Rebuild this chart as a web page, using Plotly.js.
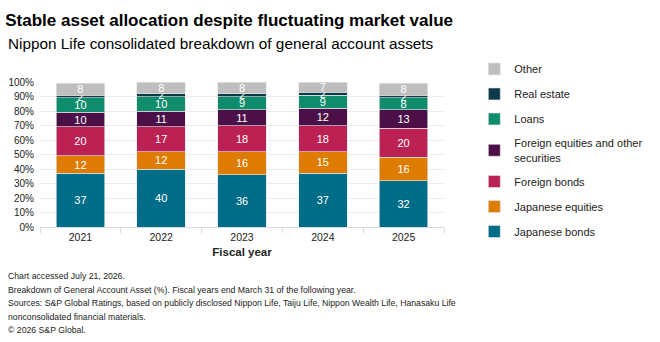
<!DOCTYPE html>
<html><head><meta charset="utf-8">
<script src="https://cdn.plot.ly/plotly-3.0.1.min.js"></script>
<style>html,body{margin:0;padding:0;background:#fff}#c{width:660px;height:342px}</style>
</head><body><div id="c"></div>
<script>
const years = ['2021','2022','2023','2024','2025'];
const japaneseBonds = [37, 40, 36, 37, 32];
const japaneseEquities = [12, 12, 16, 15, 16];
const foreignBonds = [20, 17, 18, 18, 20];
const foreignEquities = [10, 11, 11, 12, 13];
const loans = [10, 10, 9, 9, 8];
const realEstate = [2, 2, 2, 2, 2];
const other = [8, 8, 8, 7, 8];
const seriesNames = ['Japanese bonds','Japanese equities','Foreign bonds','Foreign equities and other<br>securities','Loans','Real estate','Other'];
const seriesColors = ['#006d88','#dd7c00','#bb2253','#4a1047','#0e8c6b','#0b3b4b','#bebebe'];
const seriesValues = [japaneseBonds, japaneseEquities, foreignBonds, foreignEquities, loans, realEstate, other];

const FONT = 'Liberation Sans, Arial, sans-serif';
const traces = seriesValues.map((v,i)=>({
  type:'bar', x:years, y:v, name:seriesNames[i], legendgroup:'g'+i, legendrank:100-i,
  marker:{color:seriesColors[i], line:{color:'rgba(230,230,230,0.8)', width:0.8}},
  text:v.map(String), textposition:'inside', insidetextanchor:'middle', textangle:0,
  textfont:{color:'#ffffff', size:11, family:FONT}, hoverinfo:'none'
}));

const layout = {
  width:660, height:342, barmode:'stack', bargap:0.4,
  margin:{l:40, r:182, t:82, b:115},
  paper_bgcolor:'#fff', plot_bgcolor:'#fff',
  font:{family:FONT, color:'#222', size:10},
  uniformtext:{mode:'show', minsize:11},
  title:{text:'<b>Stable asset allocation despite fluctuating market value</b>', xref:'container', x:0.008, xanchor:'left', yref:'container', y:0.94, yanchor:'middle', font:{size:17, family:FONT, color:'#000'}},
  xaxis:{type:'category', showgrid:false, ticks:'outside', tickson:'boundaries', ticklen:5, tickcolor:'#dcdcdc', showline:true, linecolor:'#dcdcdc', tickfont:{size:10.5, color:'#222'},
    title:{text:'<b>Fiscal year</b>', font:{size:11.5, color:'#222'}, standoff:6}},
  yaxis:{range:[0,100], dtick:10, ticksuffix:'%', showgrid:true, gridcolor:'#ececec', zeroline:false, tickfont:{size:10, color:'#222'}, ticklabelstandoff:5, fixedrange:true},
  legend:{x:1.075, xanchor:'left', y:1.19, yanchor:'top', traceorder:'grouped', tracegroupgap:6, font:{size:11, color:'#222'}, itemwidth:30, maxheight:320},
  showlegend:true,
  annotations:[
    {text:'Nippon Life consolidated breakdown of general account assets', xref:'paper', yref:'paper', x:-0.085, y:(342-115-44)/145, xanchor:'left', yanchor:'middle', showarrow:false, font:{size:15.3, color:'#000'}},
  ].concat([
    'Chart accessed July 21, 2026.',
    'Breakdown of General Account Asset (%). Fiscal years end March 31 of the following year.',
    'Sources: S&P Global Ratings, based on publicly disclosed Nippon Life, Taiju Life, Nippon Wealth Life, Hanasaku Life',
    'nonconsolidated financial materials.',
    '© 2026 S&P Global.'
  ].map((t,i)=>({text:t, xref:'paper', yref:'paper', x:-0.085, y:(227-(276+i*13.6))/145, xanchor:'left', yanchor:'middle', showarrow:false, font:{size:8.7, family:FONT, color:'#222'}})))
};
Plotly.newPlot('c', traces, layout, {displayModeBar:false, staticPlot:true});
</script></body></html>
